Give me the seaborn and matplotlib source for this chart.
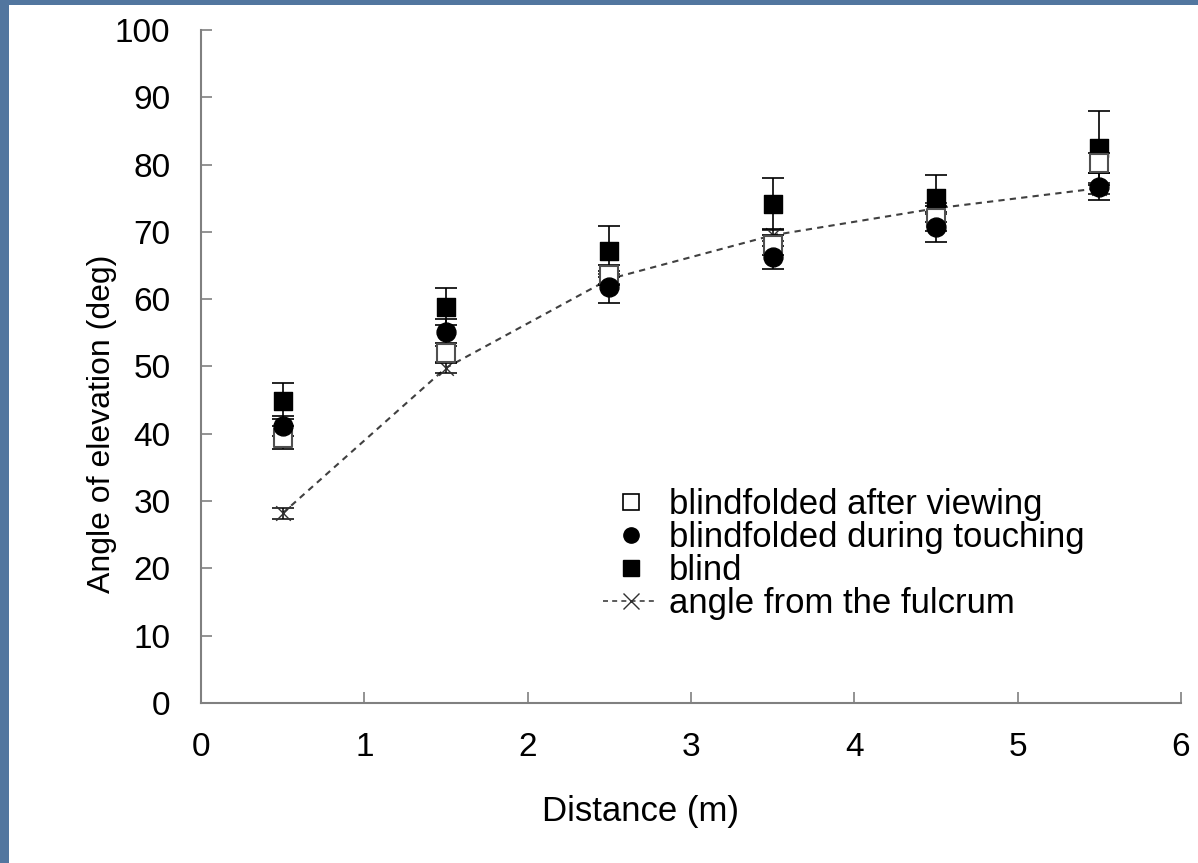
import numpy as np
import pandas as pd
import matplotlib
matplotlib.use("Agg")
import matplotlib.pyplot as plt
from matplotlib.patches import Rectangle
from matplotlib.lines import Line2D
import seaborn as sns

# valores
distancia = [0.5, 1.5, 2.5, 3.5, 4.5, 5.5]

apos_ver = [39.4, 52.0, 63.6, 68.0, 72.0, 80.2]        # blindfolded after viewing
apos_ver_dp = [1.7, 1.5, 1.5, 1.5, 1.8, 1.5]

tocando = [41.2, 55.1, 61.8, 66.2, 70.7, 76.7]         # blindfolded during touching
tocando_dp = [1.5, 2.0, 2.4, 1.7, 2.2, 2.0]

cego = [44.9, 58.9, 67.1, 74.2, 75.0, 82.5]            # blind
cego_dp = [2.7, 2.8, 3.8, 3.8, 3.5, 5.5]

fulcro = [28.2, 49.8, 63.0, 69.5, 73.5, 76.5]          # angle from the fulcrum
fulcro_dp = [0.8, 0.8, 0.8, 0.8, 0.8, 0.8]

rotulos = ["blindfolded after viewing", "blindfolded during touching",
           "blind", "angle from the fulcrum"]

df = pd.DataFrame({"dist": distancia, "apos": apos_ver, "toca": tocando,
                   "cego": cego, "fulcro": fulcro})

sns.set_style("white")
plt.rcParams["font.family"] = ["Liberation Sans", "DejaVu Sans"]
plt.rcParams["text.color"] = "black"
plt.rcParams["axes.labelcolor"] = "black"

fig = plt.figure(figsize=(11.98, 8.63), dpi=100)
fig.patch.set_facecolor("white")

# faixa azul na borda esquerda e no topo
azul = "#52769f"
fig.patches.append(Rectangle((0, 0), 9 / 1198, 1, transform=fig.transFigure,
                             facecolor=azul, edgecolor="none", zorder=-1))
fig.patches.append(Rectangle((0, 1 - 5 / 863), 1, 5 / 863, transform=fig.transFigure,
                             facecolor=azul, edgecolor="none", zorder=-1))

ax = fig.add_axes([201 / 1198, 160 / 863, 980 / 1198, 673 / 863])

# linha do fulcro
sns.lineplot(data=df, x="dist", y="fulcro", ax=ax, color="#404040",
             linestyle=(0, (3, 2.5)), linewidth=1.5, zorder=2, legend=False)
ax.errorbar(distancia, fulcro, yerr=fulcro_dp, fmt="none", ecolor="black",
            elinewidth=1.1, capsize=8, capthick=1.1, zorder=3)
sns.scatterplot(data=df, x="dist", y="fulcro", ax=ax, marker="x", s=110,
                color="#303030", linewidth=1.0, zorder=3, legend=False)

# barras de erro
ax.errorbar(distancia, cego, yerr=cego_dp, fmt="none", ecolor="black",
            elinewidth=1.2, capsize=8, capthick=1.2, zorder=4)
ax.errorbar(distancia, apos_ver, yerr=apos_ver_dp, fmt="none", ecolor="black",
            elinewidth=1.2, capsize=8, capthick=1.2, zorder=4)
ax.errorbar(distancia, tocando, yerr=tocando_dp, fmt="none", ecolor="black",
            elinewidth=1.2, capsize=8, capthick=1.2, zorder=4)

# pontos
sns.scatterplot(data=df, x="dist", y="cego", ax=ax, marker="s", s=165,
                color="black", edgecolor="black", linewidth=1, zorder=5, legend=False)
sns.scatterplot(data=df, x="dist", y="apos", ax=ax, marker="s", s=165,
                color="white", edgecolor="#505050", linewidth=1.5, zorder=6, legend=False)
sns.scatterplot(data=df, x="dist", y="toca", ax=ax, marker="o", s=185,
                color="black", edgecolor="black", linewidth=1, zorder=7, legend=False)

ax.set_xlim(0, 6)
ax.set_ylim(0, 100)
ax.set_xticks(range(0, 7))
ax.set_yticks(range(0, 101, 10))
ax.set_facecolor("white")

for lado in ["top", "right"]:
    ax.spines[lado].set_visible(False)
for lado in ["left", "bottom"]:
    ax.spines[lado].set_color("#808080")
    ax.spines[lado].set_linewidth(1.5)

ax.tick_params(bottom=True, left=True, direction="in", length=8, width=1.2,
               color="#808080", labelsize=24, pad=21, labelcolor="black")
ax.tick_params(axis="y", pad=22)

ax.set_xlabel("Distance (m)", fontsize=25)
ax.set_ylabel("Angle of elevation (deg)", fontsize=23)
ax.xaxis.set_label_coords(0.448, -0.137)
ax.yaxis.set_label_coords(-0.086, 0.415)

# legenda
handles = [
    Line2D([], [], linestyle="none", marker="s", markersize=11,
           markerfacecolor="white", markeredgecolor="black", markeredgewidth=1.2),
    Line2D([], [], linestyle="none", marker="o", markersize=11,
           markerfacecolor="black", markeredgecolor="black"),
    Line2D([], [], linestyle="none", marker="s", markersize=11,
           markerfacecolor="black", markeredgecolor="black"),
    Line2D([], [], linestyle=(0, (3, 2.5)), color="#404040", linewidth=1.2,
           marker="x", markersize=12, markeredgecolor="#303030", markeredgewidth=1.0),
]
ax.legend(handles, rotulos, loc="upper left", bbox_to_anchor=(0.41, 0.319),
          frameon=False, fontsize=25, handlelength=1.6, handletextpad=0.3,
          labelspacing=0.0, borderpad=0, borderaxespad=0)

plt.savefig("out.png", dpi=100, facecolor=fig.get_facecolor())
